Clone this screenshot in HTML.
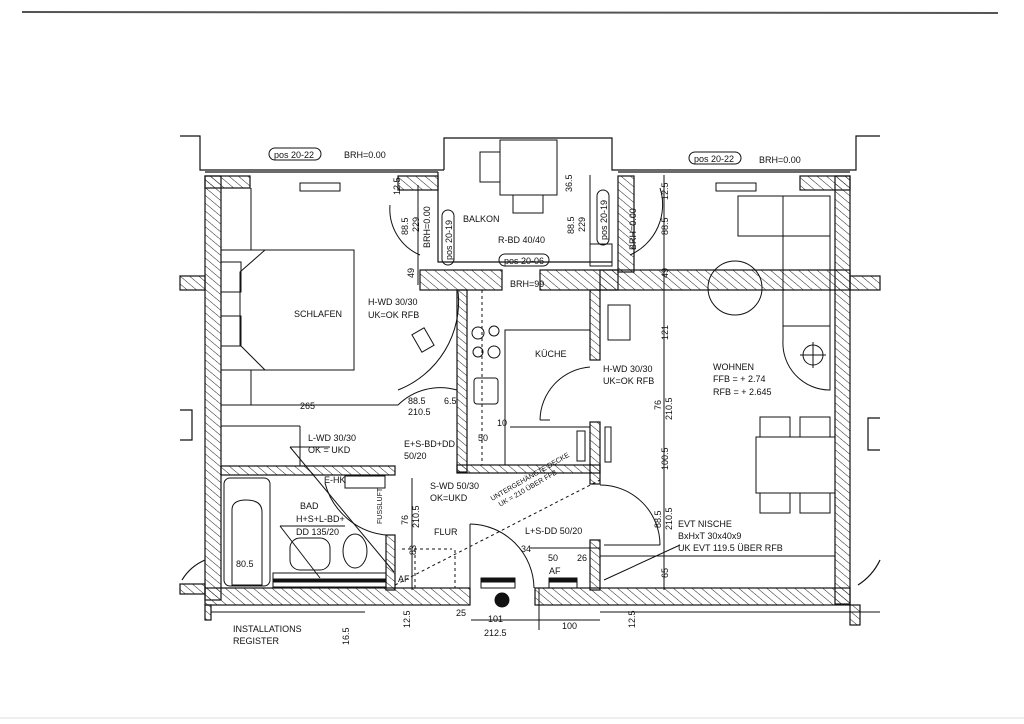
<!DOCTYPE html>
<html><head><meta charset="utf-8"><style>
html,body{margin:0;padding:0;background:#fff;}
svg{display:block}
text{font-family:"Liberation Sans",sans-serif;font-size:9px;fill:#111;}
</style></head><body>
<svg width="1024" height="724" viewBox="0 0 1024 724" xmlns="http://www.w3.org/2000/svg">
<defs>
<pattern id="h" patternUnits="userSpaceOnUse" width="6" height="6" patternTransform="rotate(-50)">
<line x1="0" y1="0" x2="0" y2="6" stroke="#222" stroke-width="1"/>
</pattern>
</defs>
<rect width="1024" height="724" fill="#fff"/>
<line x1="22" y1="12" x2="998" y2="13" stroke="#555" stroke-width="2"/>
<line x1="0" y1="718" x2="1024" y2="718" stroke="#ddd" stroke-width="1"/>

<g stroke="#111" stroke-width="1.2" fill="none">
<polyline points="180,136 200,136 200,170 444,170"/>
<polyline points="444,170 444,138 612,138 612,170 856,170 856,136 880,136"/>
<polyline points="438,172 438,262 612,262"/>
<line x1="205" y1="172" x2="438" y2="172"/>
<line x1="618" y1="172" x2="850" y2="172"/>
<polyline points="180,410 192,410 192,440 180,440"/>
<polyline points="880,418 868,418 868,450 880,450"/>
<path d="M182,580 A50,50 0 0 1 205,560"/>
<path d="M858,585 A60,60 0 0 0 880,560"/>
</g>

<g fill="url(#h)" stroke="#111" stroke-width="1.2">
<rect x="205" y="176" width="16" height="424"/>
<rect x="205" y="176" width="45" height="12"/>
<rect x="398" y="176" width="40" height="14"/>
<rect x="180" y="276" width="25" height="14"/>
<rect x="180" y="584" width="25" height="10"/>
<rect x="420" y="270" width="82" height="20"/>
<rect x="540" y="270" width="78" height="20"/>
<rect x="618" y="176" width="16" height="96"/>
<rect x="600" y="270" width="250" height="20"/>
<rect x="800" y="176" width="50" height="14"/>
<rect x="835" y="176" width="15" height="428"/>
<rect x="850" y="276" width="30" height="14"/>
<rect x="457" y="290" width="10" height="182"/>
<rect x="590" y="290" width="10" height="70"/>
<rect x="590" y="422" width="10" height="62"/>
<rect x="457" y="465" width="143" height="8"/>
<rect x="221" y="466" width="174" height="9"/>
<rect x="386" y="535" width="9" height="55"/>
<rect x="590" y="540" width="10" height="50"/>
<rect x="205" y="588" width="265" height="17"/>
<rect x="535" y="588" width="315" height="17"/>
<rect x="205" y="605" width="6" height="15"/>
<rect x="850" y="605" width="10" height="20"/>
</g>
<line x1="211" y1="612" x2="365" y2="612" stroke="#111"/>
<line x1="600" y1="612" x2="880" y2="612" stroke="#111"/>

<g stroke="#111" stroke-width="1" fill="none">
<rect x="221" y="250" width="133" height="120"/>
<polyline points="265,250 240,272 240,345 265,370"/>
<rect x="221" y="262" width="20" height="30"/><rect x="221" y="316" width="20" height="30"/>
<line x1="251" y1="188" x2="251" y2="250"/>
<line x1="251" y1="370" x2="251" y2="405"/>
<rect x="300" y="183" width="40" height="8"/>
<line x1="221" y1="405" x2="398" y2="405"/>
<line x1="221" y1="426" x2="300" y2="426"/><line x1="300" y1="426" x2="300" y2="466"/>
<rect x="500" y="140" width="57" height="55"/>
<rect x="480" y="152" width="20" height="30"/>
<rect x="513" y="195" width="30" height="18"/>
<rect x="590" y="244" width="22" height="22"/>
<path d="M390,205 A50,50 0 0 0 420,255"/>
<path d="M660,188 A55,55 0 0 1 630,255"/>
<line x1="482" y1="290" x2="482" y2="465" stroke-dasharray="3,3"/>
<circle cx="478" cy="333" r="6"/><circle cx="494" cy="331" r="5"/>
<circle cx="478" cy="352" r="5"/><circle cx="494" cy="352" r="6"/>
<rect x="474" y="378" width="24" height="26" rx="3"/>
<polyline points="505,465 505,330 590,330"/>
<line x1="510" y1="427" x2="590" y2="427"/>
<path d="M590,367 A54,54 0 0 0 540,420"/>
<line x1="540" y1="420" x2="550" y2="420"/>
<path d="M458,291 A95,95 0 0 1 398,390" />
<rect x="416" y="330" width="14" height="20" transform="rotate(-30 423 340)"/>
<rect x="608" y="305" width="22" height="35"/>
<path d="M398,405 A60,60 0 0 1 457,390"/>
<rect x="605" y="427" width="6" height="35"/>
<rect x="577" y="431" width="8" height="30"/>
<rect x="738" y="196" width="92" height="40"/>
<rect x="783" y="196" width="47" height="130"/>
<path d="M783,290 L830,290 L830,390 A47,47 0 0 1 783,340 Z"/>
<circle cx="813" cy="355" r="10"/><line x1="800" y1="355" x2="826" y2="355"/><line x1="813" y1="342" x2="813" y2="368"/>
<circle cx="735" cy="288" r="27"/>
<rect x="756" y="437" width="79" height="56"/>
<rect x="760" y="417" width="30" height="20"/><rect x="800" y="417" width="30" height="20"/>
<rect x="760" y="493" width="30" height="20"/><rect x="800" y="493" width="30" height="20"/>
<rect x="716" y="183" width="40" height="8"/>
<line x1="600" y1="556" x2="835" y2="556"/>
<path d="M600,485 A60,60 0 0 1 660,545"/>
<rect x="224" y="478" width="46" height="108" rx="6"/>
<path d="M232,585 L232,510 Q232,500 246,500 Q262,500 262,512 L262,585 Z"/>
<rect x="345" y="476" width="40" height="12"/>
<rect x="290" y="538" width="40" height="32" rx="10"/>
<ellipse cx="355" cy="551" rx="12" ry="17"/>
<rect x="273" y="573" width="113" height="14"/>
<rect x="273" y="579" width="113" height="3" fill="#111"/>
<path d="M325,483 A70,70 0 0 0 386,535"/>
<line x1="402" y1="549" x2="452" y2="549" stroke-dasharray="3,3"/>
<line x1="415" y1="549" x2="415" y2="588" stroke-dasharray="3,3"/>
<line x1="395" y1="585" x2="600" y2="480" stroke-dasharray="3,3"/>
<line x1="455" y1="550" x2="455" y2="588" stroke-dasharray="3,3"/>
<path d="M470,524 A65,65 0 0 1 534,588"/><line x1="470" y1="524" x2="470" y2="588"/>
<rect x="481" y="578" width="34" height="10"/><rect x="481" y="578" width="34" height="4" fill="#111"/>
<rect x="549" y="578" width="28" height="10"/><rect x="549" y="578" width="28" height="4" fill="#111"/>
<line x1="539" y1="588" x2="539" y2="630"/>
<circle cx="502" cy="600" r="7" fill="#111"/>
<line x1="290" y1="447" x2="330" y2="447"/><line x1="290" y1="447" x2="394" y2="572"/>
<line x1="280" y1="526" x2="345" y2="526"/><line x1="280" y1="526" x2="320" y2="578"/>
<line x1="604" y1="545" x2="660" y2="545"/><line x1="604" y1="580" x2="680" y2="545"/>
<line x1="530" y1="548" x2="600" y2="548"/>
<line x1="418" y1="185" x2="418" y2="285"/>
<line x1="590" y1="175" x2="590" y2="244"/>
<line x1="664" y1="175" x2="664" y2="590"/>
<line x1="412" y1="478" x2="412" y2="590"/>
<line x1="221" y1="405" x2="397" y2="405"/>
<line x1="471" y1="620" x2="600" y2="620"/>
</g>

<g>
<rect x="269" y="148" width="52" height="12" rx="6" fill="none" stroke="#111"/>
<text x="274" y="158">pos 20-22</text>
<text x="344" y="158">BRH=0.00</text>
<rect x="689" y="152" width="52" height="12" rx="6" fill="none" stroke="#111"/>
<text x="694" y="162">pos 20-22</text>
<text x="759" y="163">BRH=0.00</text>
<text x="294" y="317">SCHLAFEN</text>
<text x="463" y="222">BALKON</text>
<text x="498" y="243">R-BD 40/40</text>
<rect x="499" y="254" width="50" height="12" rx="6" fill="none" stroke="#111"/>
<text x="504" y="264">pos 20-06</text>
<text x="510" y="287">BRH=99</text>
<text x="368" y="305">H-WD 30/30</text>
<text x="368" y="318">UK=OK RFB</text>
<text x="535" y="357">KÜCHE</text>
<text x="603" y="372">H-WD 30/30</text>
<text x="603" y="384">UK=OK RFB</text>
<text x="713" y="370">WOHNEN</text>
<text x="713" y="382">FFB = + 2.74</text>
<text x="713" y="395">RFB = + 2.645</text>
<text x="300" y="409">265</text>
<text x="408" y="404">88.5</text>
<text x="408" y="415">210.5</text>
<text x="444" y="404">6.5</text>
<text x="308" y="441">L-WD 30/30</text>
<text x="308" y="453">OK = UKD</text>
<text x="404" y="447">E+S-BD+DD</text>
<text x="404" y="459">50/20</text>
<text x="478" y="441">50</text>
<text x="497" y="426">10</text>
<text x="324" y="483">E-HK</text>
<text x="430" y="489">S-WD 50/30</text>
<text x="430" y="501">OK=UKD</text>
<text x="300" y="509">BAD</text>
<text x="296" y="522">H+S+L-BD+</text>
<text x="296" y="535">DD 135/20</text>
<text x="434" y="535">FLUR</text>
<text x="525" y="534">L+S-DD 50/20</text>
<text x="236" y="567">80.5</text>
<text x="398" y="582">AF</text>
<text x="549" y="574">AF</text>
<text x="521" y="552">34</text>
<text x="548" y="561">50</text>
<text x="577" y="561">26</text>
<text x="678" y="527">EVT NISCHE</text>
<text x="678" y="539">BxHxT 30x40x9</text>
<text x="678" y="551">UK EVT 119.5 ÜBER RFB</text>
<text x="233" y="632">INSTALLATIONS</text>
<text x="233" y="644">REGISTER</text>
<text x="488" y="622">101</text>
<text x="484" y="636">212.5</text>
<text x="562" y="629">100</text>
<text x="456" y="616">25</text>
<g transform="rotate(-30 520 485)"><text x="488" y="485" style="font-size:7px">UNTERGEHÄNGTE DECKE</text><text x="492" y="494" style="font-size:7px">UK = 210 ÜBER FFB</text></g>
<g transform="rotate(-90)">
<text x="-235" y="408">88.5</text><text x="-232" y="419">229</text><text x="-248" y="430">BRH=0.00</text>
<rect x="-265" y="442" width="55" height="12" rx="6" fill="none" stroke="#111"/><text x="-260" y="452">pos 20-19</text>
<text x="-234" y="574">88.5</text><text x="-232" y="585">229</text>
<rect x="-245" y="597" width="55" height="12" rx="6" fill="none" stroke="#111"/><text x="-240" y="607">pos 20-19</text>
<text x="-250" y="636">BRH=0.00</text>
<text x="-235" y="668">88.5</text><text x="-200" y="668">12.5</text>
<text x="-278" y="414">49</text><text x="-278" y="668">49</text>
<text x="-340" y="668">121</text>
<text x="-410" y="661">76</text><text x="-420" y="672">210.5</text>
<text x="-470" y="668">100.5</text>
<text x="-528" y="661">88.5</text><text x="-530" y="672">210.5</text>
<text x="-578" y="668">65</text>
<text x="-525" y="408">76</text><text x="-528" y="419">210.5</text>
<text x="-555" y="416">83</text>
<text x="-524" y="382" style="font-size:7px">FUSSLUFT</text>
<text x="-195" y="400">12.5</text>
<text x="-192" y="572">36.5</text>
<text x="-645" y="349">16.5</text>
<text x="-628" y="410">12.5</text>
<text x="-628" y="635">12.5</text>
</g>
</g>
</svg>
</body></html>
